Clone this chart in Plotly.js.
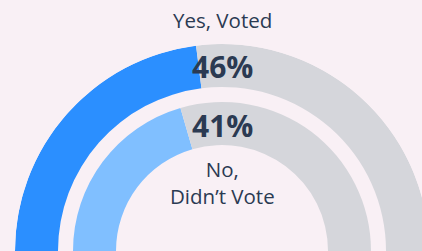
<!DOCTYPE html>
<html>
<head>
<meta charset="utf-8">
<script src="https://cdn.plot.ly/plotly-3.0.1.min.js"></script>
<style>
html, body { margin: 0; padding: 0; overflow: hidden; background: #f9f0f5; }
#chart { width: 460px; height: 251px; }
</style>
</head>
<body>
<div id="chart"></div>
<script>
// Data
const categories = ["Yes, Voted", "No, Didn\u2019t Vote"];
const values = [46, 41];          // percent
const fillColors = ["#2b8fff", "#80bfff"];
const restColor = "#d5d6db";

// Geometry (styling)
const W = 460, H = 251;
const ringBase = [164, 106];
const ringThick = 43;
const maxR = 207;

const traces = [];
values.forEach((v, i) => {
  const filled = v * 1.8;
  const rest = (100 - v) * 1.8;
  traces.push({
    type: 'barpolar',
    r: [ringThick, ringThick],
    base: [ringBase[i], ringBase[i]],
    theta: [filled / 2, filled + rest / 2],
    width: [filled, rest],
    marker: { color: [fillColors[i], restColor], line: { width: 0 } },
    hoverinfo: 'skip',
    showlegend: false
  });
});

const fontFam = '"Open Sans", sans-serif';
const txtColor = '#2b3a52';
const cx = 222 / W;
const py = y => (H - y) / H;

const layout = {
  width: W, height: H,
  margin: { l: 0, r: 0, t: 0, b: 0 },
  paper_bgcolor: '#f9f0f5',
  plot_bgcolor: 'rgba(0,0,0,0)',
  showlegend: false,
  polar: {
    domain: { x: [15 / W, 429 / W], y: [0, 207 / H] },
    sector: [0, 180],
    bgcolor: 'rgba(0,0,0,0)',
    bargap: 0,
    radialaxis: { visible: false, range: [0, maxR], showgrid: false },
    angularaxis: { visible: false, rotation: 180, direction: 'clockwise', showgrid: false, thetaunit: 'degrees' }
  },
  annotations: [
    { text: categories[0], x: cx, y: py(20), xref: 'paper', yref: 'paper', showarrow: false,
      xanchor: 'center', yanchor: 'middle', font: { family: fontFam, size: 20.5, color: txtColor } },
    { text: '<b>' + values[0] + '%</b>', x: cx, y: py(66), xref: 'paper', yref: 'paper', showarrow: false,
      xanchor: 'center', yanchor: 'middle', font: { family: fontFam, size: 30, color: txtColor } },
    { text: '<b>' + values[1] + '%</b>', x: cx, y: py(125), xref: 'paper', yref: 'paper', showarrow: false,
      xanchor: 'center', yanchor: 'middle', font: { family: fontFam, size: 30, color: txtColor } },
    { text: categories[1].replace(', ', ',<br>'), x: cx, y: py(182), xref: 'paper', yref: 'paper', showarrow: false,
      xanchor: 'center', yanchor: 'middle', font: { family: fontFam, size: 20.5, color: txtColor } }
  ]
};

Plotly.newPlot('chart', traces, layout, { displayModeBar: false, staticPlot: true });
</script>
</body>
</html>
